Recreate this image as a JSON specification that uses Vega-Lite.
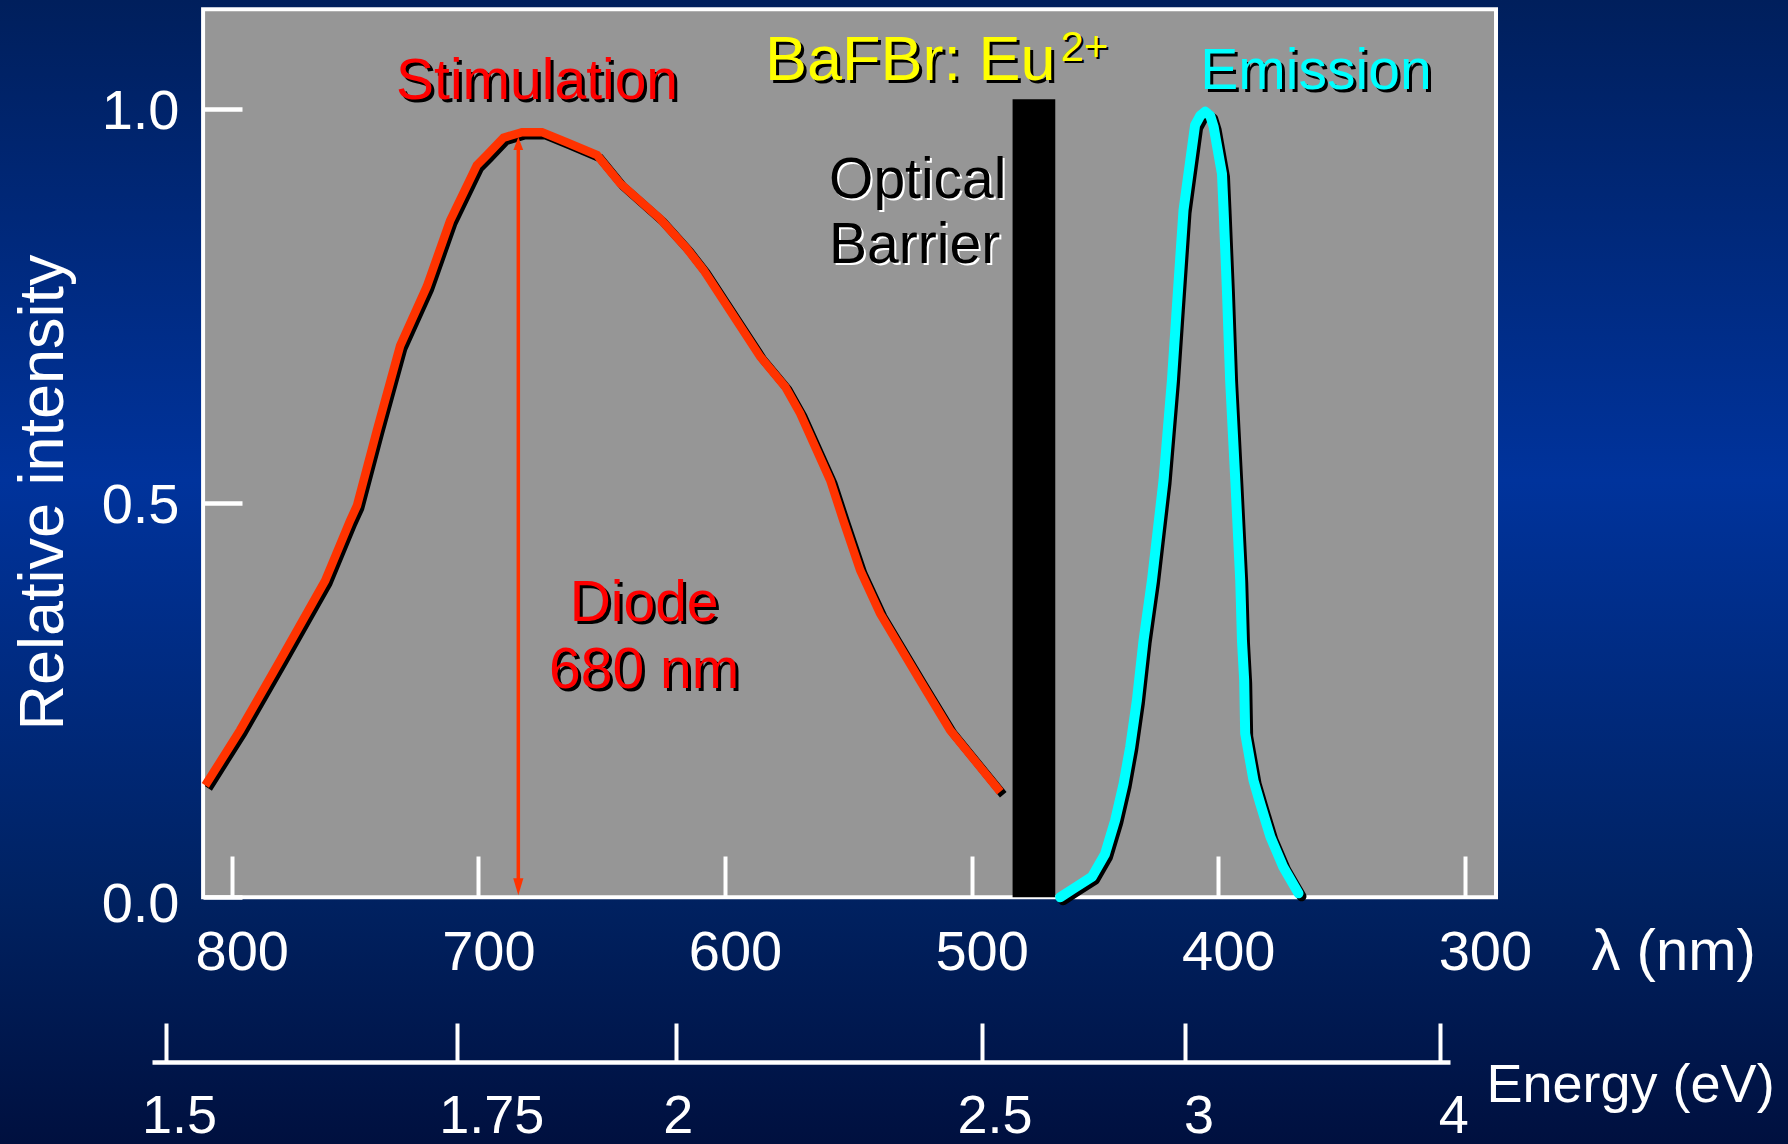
{
"$schema": "https://vega.github.io/schema/vega-lite/v6.json",
"width": 1788, "height": 1144, "padding": 0, "autosize": {"type": "none"},
"background": "#002466",
"config": {"view": {"stroke": null}, "font": "Liberation Sans, Arial, sans-serif", "axis": {"grid": false, "zindex": 1, "labelFont": "Liberation Sans, Arial, sans-serif", "titleFont": "Liberation Sans, Arial, sans-serif"}},
"datasets": {
 "stim": [
  {"nm": 810.7, "I": 0.142}, {"nm": 796.6, "I": 0.212}, {"nm": 780.3, "I": 0.301}, {"nm": 762.1, "I": 0.402},
  {"nm": 752.0, "I": 0.478}, {"nm": 749.2, "I": 0.497}, {"nm": 741.1, "I": 0.593}, {"nm": 731.7, "I": 0.700},
  {"nm": 720.9, "I": 0.775}, {"nm": 711.4, "I": 0.859}, {"nm": 700.6, "I": 0.929}, {"nm": 696.5, "I": 0.942},
  {"nm": 689.8, "I": 0.964}, {"nm": 682.3, "I": 0.971}, {"nm": 674.2, "I": 0.971}, {"nm": 664.1, "I": 0.958},
  {"nm": 651.9, "I": 0.942}, {"nm": 642.5, "I": 0.906}, {"nm": 626.3, "I": 0.861}, {"nm": 615.4, "I": 0.823},
  {"nm": 608.7, "I": 0.796}, {"nm": 585.7, "I": 0.686}, {"nm": 575.6, "I": 0.648}, {"nm": 569.5, "I": 0.614},
  {"nm": 557.3, "I": 0.529}, {"nm": 552.0, "I": 0.478}, {"nm": 545.2, "I": 0.415}, {"nm": 537.1, "I": 0.360},
  {"nm": 520.9, "I": 0.275}, {"nm": 508.7, "I": 0.212}, {"nm": 488.4, "I": 0.134}
 ],
 "emis": [
  {"nm": 464.1, "I": 0.000}, {"nm": 458.7, "I": 0.011}, {"nm": 451.2, "I": 0.026}, {"nm": 445.9, "I": 0.055},
  {"nm": 441.8, "I": 0.098}, {"nm": 438.4, "I": 0.144}, {"nm": 435.7, "I": 0.191}, {"nm": 433.0, "I": 0.250},
  {"nm": 430.3, "I": 0.326}, {"nm": 426.9, "I": 0.402}, {"nm": 422.2, "I": 0.529}, {"nm": 418.8, "I": 0.656},
  {"nm": 416.8, "I": 0.749}, {"nm": 414.1, "I": 0.872}, {"nm": 412.1, "I": 0.918}, {"nm": 409.4, "I": 0.980},
  {"nm": 407.3, "I": 0.992}, {"nm": 405.3, "I": 0.997}, {"nm": 403.3, "I": 0.992}, {"nm": 401.9, "I": 0.978},
  {"nm": 398.5, "I": 0.918}, {"nm": 397.9, "I": 0.876}, {"nm": 396.5, "I": 0.770}, {"nm": 395.2, "I": 0.656},
  {"nm": 393.1, "I": 0.529}, {"nm": 391.1, "I": 0.402}, {"nm": 390.4, "I": 0.326}, {"nm": 389.5, "I": 0.275},
  {"nm": 389.1, "I": 0.208}, {"nm": 385.7, "I": 0.148}, {"nm": 383.0, "I": 0.119}, {"nm": 378.9, "I": 0.077},
  {"nm": 373.6, "I": 0.038}, {"nm": 367.5, "I": 0.005}
 ]
},
"layer": [
 {"data": {"values": [{}]},
  "mark": {"type": "rect", "fill": {"gradient": "linear", "x1": 0, "y1": 0, "x2": 0, "y2": 1, "stops": [{"offset": 0, "color": "#001f5c"}, {"offset": 0.42, "color": "#00339c"}, {"offset": 0.78, "color": "#002262"}, {"offset": 1, "color": "#00103f"}]}}},
 {"encoding": {
   "x": {"field": "nm", "type": "quantitative", "scale": {"domain": [169.02, 893.94], "reverse": true, "nice": false, "zero": false},
     "axis": {"orient": "bottom", "offset": -247, "zindex": 1, "values": [800, 700, 600, 500, 400, 300], "format": "d", "domain": false,
       "ticks": true, "tickColor": "white", "tickWidth": 4, "tickSize": -41, "labelPadding": 69, "labelBaseline": "top", "labelFlush": false,
       "labelColor": "white", "labelFontSize": 56, "labelOffset": {"condition": {"test": "datum.value === 300", "value": 20}, "value": 10},
       "title": "λ (nm)", "titleX": 1591, "titleY": 72, "titleAlign": "left", "titleBaseline": "alphabetic", "titleAngle": 0,
       "titleFontSize": 58, "titleColor": "white", "titleFontWeight": "normal"}},
   "y": {"field": "I", "type": "quantitative", "scale": {"domain": [-0.3131, 1.1387], "nice": false, "zero": false},
     "axis": {"orient": "left", "offset": -203, "zindex": 1, "values": [0, 0.5, 1], "format": ".1f", "domain": false,
       "tickColor": "white", "tickWidth": 4.5, "tickSize": -39, "labelPadding": 63, "labelAlign": "right", "labelBaseline": "middle",
       "labelColor": "white", "labelFontSize": 56, "labelFlush": false,
       "labelOffset": {"condition": {"test": "datum.value === 0", "value": 7}, "value": 2},
       "title": "Relative intensity", "titleAngle": -90, "titleX": -160, "titleY": 492, "titleAlign": "center", "titleBaseline": "middle",
       "titleFontSize": 63, "titleColor": "white", "titleFontWeight": "normal"}}
  },
  "layer": [
  {"data": {"values": [{"nm": 811.6, "nm2": 287.4, "I": 0, "I2": 1.127}]},
   "mark": {"type": "rect", "fill": "#969696", "stroke": "white", "strokeWidth": 4},
   "encoding": {"x2": {"field": "nm2"}, "y2": {"field": "I2"}}},
  {"data": {"name": "stim"},
   "mark": {"type": "line", "color": "black", "strokeWidth": 8.5, "xOffset": 3, "yOffset": 3, "strokeJoin": "miter"}},
  {"data": {"name": "stim"},
   "mark": {"type": "line", "color": "#ff3300", "strokeWidth": 8.5, "strokeJoin": "miter"}},
  {"data": {"values": [{"nm": 483.4, "nm2": 466.1, "I": 0, "I2": 1.0127}]},
   "mark": {"type": "rect", "fill": "black"},
   "encoding": {"x2": {"field": "nm2"}, "y2": {"field": "I2"}}},
  {"data": {"name": "emis"},
   "mark": {"type": "line", "color": "black", "strokeWidth": 10, "xOffset": 3, "yOffset": 3, "strokeJoin": "round", "strokeCap": "round"}},
  {"data": {"name": "emis"},
   "mark": {"type": "line", "color": "#00ffff", "strokeWidth": 10, "strokeJoin": "round", "strokeCap": "round"}},
  {"data": {"values": [{"nm": 683.8, "I": 0.015, "I2": 0.955}]},
   "mark": {"type": "rule", "color": "#ff3300", "strokeWidth": 3.5},
   "encoding": {"y2": {"field": "I2"}}},
  {"data": {"values": [{"nm": 683.8, "I": 0.0133}]},
   "mark": {"type": "point", "shape": "M-0.6,-1L0.6,-1L0,1Z", "filled": true, "size": 289, "color": "#ff3300", "opacity": 1}},
  {"data": {"values": [{"nm": 683.8, "I": 0.9565}]},
   "mark": {"type": "point", "shape": "M-0.75,1L0.75,1L0,-1Z", "filled": true, "size": 169, "color": "#ff3300", "opacity": 1}},
  {"data": {"values": [{"t": "Stimulation", "nm": 676.2, "I": 1.0127}, {"t": "Diode", "nm": 632.8, "I": 0.3503}, {"t": "680 nm", "nm": 632.8, "I": 0.2657}]},
   "mark": {"type": "text", "color": "black", "fontSize": 57, "align": "center", "baseline": "alphabetic", "dx": 3, "dy": 3},
   "encoding": {"text": {"field": "t"}}},
  {"data": {"values": [{"t": "Stimulation", "nm": 676.2, "I": 1.0127}, {"t": "Diode", "nm": 632.8, "I": 0.3503}, {"t": "680 nm", "nm": 632.8, "I": 0.2657}]},
   "mark": {"type": "text", "color": "#ff0000", "fontSize": 57, "align": "center", "baseline": "alphabetic"},
   "encoding": {"text": {"field": "t"}}},
  {"data": {"values": [{"t": "Emission", "nm": 360.4, "I": 1.0254}]},
   "mark": {"type": "text", "color": "black", "fontSize": 57, "align": "center", "baseline": "alphabetic", "dx": 3, "dy": 3},
   "encoding": {"text": {"field": "t"}}},
  {"data": {"values": [{"t": "Emission", "nm": 360.4, "I": 1.0254}]},
   "mark": {"type": "text", "color": "#00ffff", "fontSize": 57, "align": "center", "baseline": "alphabetic"},
   "encoding": {"text": {"field": "t"}}},
  {"data": {"values": [{"t": "BaFBr: Eu", "nm": 466.0, "I": 1.0366}]},
   "mark": {"type": "text", "color": "black", "fontSize": 63, "align": "right", "baseline": "alphabetic", "dx": 3, "dy": 3},
   "encoding": {"text": {"field": "t"}}},
  {"data": {"values": [{"t": "BaFBr: Eu", "nm": 466.0, "I": 1.0366}]},
   "mark": {"type": "text", "color": "#ffff00", "fontSize": 63, "align": "right", "baseline": "alphabetic"},
   "encoding": {"text": {"field": "t"}}},
  {"data": {"values": [{"t": "2+", "nm": 464.0, "I": 1.0609}]},
   "mark": {"type": "text", "color": "black", "fontSize": 42, "align": "left", "baseline": "alphabetic", "dx": 2, "dy": 2},
   "encoding": {"text": {"field": "t"}}},
  {"data": {"values": [{"t": "2+", "nm": 464.0, "I": 1.0609}]},
   "mark": {"type": "text", "color": "#ffff00", "fontSize": 42, "align": "left", "baseline": "alphabetic"},
   "encoding": {"text": {"field": "t"}}},
  {"data": {"values": [{"t": "Optical", "nm": 557.8, "I": 0.8868}, {"t": "Barrier", "nm": 557.8, "I": 0.8053}]},
   "mark": {"type": "text", "color": "white", "fontSize": 57, "align": "left", "baseline": "alphabetic", "dx": 2, "dy": 2},
   "encoding": {"text": {"field": "t"}}},
  {"data": {"values": [{"t": "Optical", "nm": 557.8, "I": 0.8868}, {"t": "Barrier", "nm": 557.8, "I": 0.8053}]},
   "mark": {"type": "text", "color": "black", "fontSize": 57, "align": "left", "baseline": "alphabetic"},
   "encoding": {"text": {"field": "t"}}}
 ]},
 {"data": {"values": [{"eV": 1.5}, {"eV": 1.75}, {"eV": 2}, {"eV": 2.5}, {"eV": 3}, {"eV": 4}]},
  "mark": {"type": "point", "opacity": 0},
  "encoding": {"x": {"field": "eV", "type": "quantitative",
    "scale": {"type": "pow", "exponent": -1, "domain": [1.4898, 4.051], "range": [152, 1450], "nice": false, "zero": false},
    "axis": {"orient": "bottom", "offset": -82, "zindex": 1, "values": [1.5, 1.75, 2, 2.5, 3, 4], "format": ".3~g",
      "domain": true, "domainColor": "white", "domainWidth": 4.5, "tickColor": "white", "tickWidth": 4, "tickSize": -39,
      "labelPadding": 66, "labelBaseline": "top", "labelFlush": false, "labelColor": "white", "labelFontSize": 54,
      "labelOffset": {"condition": [{"test": "datum.value === 1.75", "value": 34}, {"test": "datum.value === 2", "value": 2}], "value": 13},
      "title": "Energy (eV)", "titleX": 1486, "titleY": 39, "titleAlign": "left", "titleBaseline": "alphabetic", "titleAngle": 0,
      "titleFontSize": 54, "titleColor": "white", "titleFontWeight": "normal"}}}}
],
"resolve": {"scale": {"x": "independent"}, "axis": {"x": "independent"}}
}
